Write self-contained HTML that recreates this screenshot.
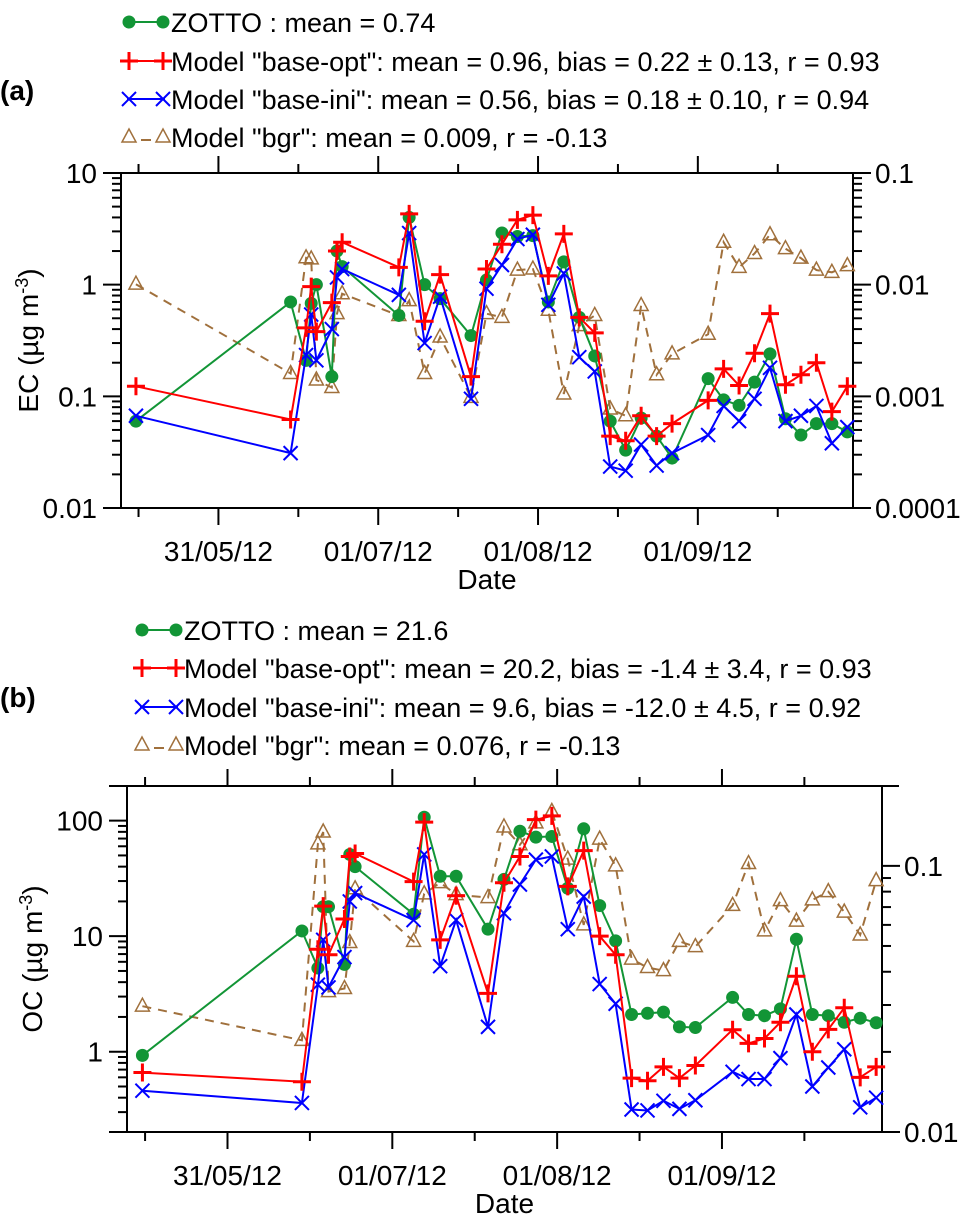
<!DOCTYPE html>
<html><head><meta charset="utf-8"><style>
html,body{margin:0;padding:0;background:#fff;}
svg{display:block;font-family:"Liberation Sans",Arial,sans-serif;}
</style></head><body>
<svg id="fig" width="964" height="1230" viewBox="0 0 964 1230" xmlns="http://www.w3.org/2000/svg"></svg>
<script>
// ---------- data ----------
const days = [-16,14,17,18,19,22,23,24,35,37,40,43,49,52,55,58,61,64,67,70,73,76,79,82,85,88,95,98,101,104,107,110,113,116,119,122];
const dateTickDays = [0,31,62,93];
const dateTickLabels = ["31/05/12","01/07/12","01/08/12","01/09/12"];
// panel a (EC)
const ecZotto = [0.06,0.70,0.21,0.68,1.0,0.15,2.0,1.45,0.53,4.0,1.0,0.75,0.35,1.1,2.9,2.7,2.75,0.7,1.6,0.51,0.23,0.06,0.033,0.064,0.044,0.028,0.144,0.093,0.083,0.134,0.24,0.063,0.045,0.057,0.057,0.048];
const ecBaseOpt = [0.123,0.062,0.41,0.96,0.38,0.69,2.0,2.4,1.43,4.3,0.47,1.23,0.15,1.38,2.3,3.8,4.2,1.2,2.85,0.51,0.37,0.044,0.040,0.067,0.044,0.057,0.092,0.176,0.125,0.243,0.55,0.127,0.156,0.20,0.073,0.123];
const ecBaseIni = [0.067,0.031,0.234,0.54,0.21,0.40,1.16,1.38,0.81,2.9,0.30,0.78,0.095,0.92,1.5,2.56,2.8,0.66,1.26,0.224,0.167,0.0235,0.0216,0.037,0.024,0.031,0.045,0.082,0.060,0.095,0.18,0.060,0.067,0.082,0.038,0.053];
const ecBgr = [0.0101,0.0016,0.0174,0.017,0.0014,0.0012,0.0055,0.0083,0.0053,0.0072,0.0016,0.0034,0.00098,0.0055,0.0051,0.0135,0.0138,0.0059,0.00105,0.0043,0.0053,0.00077,0.00067,0.0065,0.00156,0.0024,0.0036,0.024,0.0143,0.019,0.028,0.021,0.0173,0.0135,0.0129,0.0148];
const ecLeftTicks = [0.01,0.1,1,10];
const ecLeftLabels = ["0.01","0.1","1","10"];
const ecRightTicks = [0.0001,0.001,0.01,0.1];
const ecRightLabels = ["0.0001","0.001","0.01","0.1"];
// panel b (OC)
const ocZotto = [0.93,11.1,5.3,18,18,5.7,51,40,15.5,107,33,33,11.5,31,81,72,73,26,85,18.4,9.1,2.1,2.15,2.2,1.64,1.62,2.95,2.1,2.05,2.35,9.4,2.1,2.05,1.8,1.95,1.78];
const ocBaseOpt = [0.66,0.55,7.7,18.2,6.9,14.1,49,52,29.7,97,9.3,22.4,3.2,29,49,102,110,27,55,10,6.9,0.59,0.56,0.74,0.59,0.76,1.55,1.18,1.3,1.8,4.5,1.0,1.56,2.4,0.6,0.74];
const ocBaseIni = [0.46,0.36,3.8,9.3,3.6,6.6,20,23.6,13.8,51,5.5,13.8,1.64,15.8,28,46,49,11.5,22,3.85,2.6,0.316,0.31,0.376,0.32,0.38,0.67,0.58,0.58,0.88,2.1,0.5,0.73,1.05,0.33,0.40];
const ocBgr = [0.0297,0.0221,0.121,0.134,0.0337,0.0346,0.0515,0.082,0.052,0.0785,0.0865,0.078,0.076,0.14,0.12,0.145,0.16,0.106,0.060,0.126,0.10,0.0446,0.0415,0.0404,0.052,0.0497,0.071,0.102,0.057,0.074,0.062,0.0745,0.08,0.067,0.055,0.088];
const ocLeftTicks = [1,10,100];
const ocLeftLabels = ["1","10","100"];
const ocRightTicks = [0.01,0.1];
const ocRightLabels = ["0.01","0.1"];

// ---------- helpers ----------
const NS = "http://www.w3.org/2000/svg";
const svg = document.getElementById("fig");
function mk(tag, attrs, parent){
  const e = document.createElementNS(NS, tag);
  for (const k in attrs) e.setAttribute(k, attrs[k]);
  (parent||svg).appendChild(e);
  return e;
}
const GREEN="#129536", RED="#ff0000", BLUE="#0000ff", BROWN="#a0703c";
const TF = 28, LF = 27;

function marker(g, type, x, y){
  let m;
  if (type==="circle"){
    m = mk("circle",{cx:x,cy:y,r:6.5,fill:GREEN},g);
  } else if (type==="plus"){
    m = mk("path",{d:`M${x-9},${y}H${x+9}M${x},${y-9}V${y+9}`,stroke:RED,"stroke-width":3,fill:"none"},g);
  } else if (type==="x"){
    m = mk("path",{d:`M${x-7},${y-7}L${x+7},${y+7}M${x-7},${y+7}L${x+7},${y-7}`,stroke:BLUE,"stroke-width":2,fill:"none"},g);
  } else {
    m = mk("path",{d:`M${x},${y-8}L${x+7},${y+5}L${x-7},${y+5}Z`,stroke:BROWN,"stroke-width":1.5,fill:"none"},g);
  }
  return m;
}

function panel(P){
  const xs = d => P.x0 + (d - (-18.9)) / (123.1 - (-18.9)) * (P.x1 - P.x0);
  const yl = v => P.y1 - (Math.log10(v) - P.lmin) / (P.lmax - P.lmin) * (P.y1 - P.y0);
  const yr = v => P.y1 - (Math.log10(v) - P.rmin) / (P.rmax - P.rmin) * (P.y1 - P.y0);
  const g = mk("g",{});
  
  
  const ax = mk("g",{stroke:"#000","stroke-width":2,fill:"none"},g);
  
  
  mk("line",{x1:P.x0-18,y1:P.y0,x2:P.x1+17,y2:P.y0},ax);
  mk("line",{x1:P.x0-18,y1:P.y1,x2:P.x1+17,y2:P.y1},ax);
  mk("line",{x1:P.x0,y1:P.y0,x2:P.x0,y2:P.y1},ax);
  mk("line",{x1:P.x1,y1:P.y0,x2:P.x1,y2:P.y1},ax);
  for (let k=-1;k<dateTickDays.length;k++){
    if (k>=0){
      const x = xs(dateTickDays[k]);
      mk("line",{x1:x,y1:P.y1,x2:x,y2:P.y1+17},ax);
      mk("line",{x1:x,y1:P.y0,x2:x,y2:P.y0-17},ax);
    }
    const dMin = k>=0 ? dateTickDays[k]+15.5 : -15.5;
    const xm = xs(dMin);
    mk("line",{x1:xm,y1:P.y1,x2:xm,y2:P.y1+9},ax);
    mk("line",{x1:xm,y1:P.y0,x2:xm,y2:P.y0-9},ax);
  }
  dateTickDays.forEach((d,i)=>{
    const t = mk("text",{x:xs(d),y:P.y1+53,"font-size":TF,"text-anchor":"middle",fill:"#000"},g);
    t.textContent = dateTickLabels[i];
    
    
  });
  const xt = mk("text",{x:(P.x0+P.x1)/2,y:P.y1+81,"font-size":TF,"text-anchor":"middle"},g);
  xt.textContent = "Date";
  
  
  for (let e=Math.floor(P.lmin); e<=Math.ceil(P.lmax); e++){
    for (let m=1;m<10;m++){
      const lv = e + Math.log10(m);
      if (lv < P.lmin-1e-6 || lv > P.lmax+1e-6) continue;
      const y = yl(Math.pow(10,lv));
      mk("line",{x1:P.x0,y1:y,x2:P.x0-(m===1?18:9),y2:y},ax);
    }
  }
  for (let e=Math.floor(P.rmin); e<=Math.ceil(P.rmax); e++){
    for (let m=1;m<10;m++){
      const lv = e + Math.log10(m);
      if (lv < P.rmin-1e-6 || lv > P.rmax+1e-6) continue;
      const y = yr(Math.pow(10,lv));
      mk("line",{x1:P.x1,y1:y,x2:P.x1+(m===1?18:9),y2:y},ax);
    }
  }
  P.lt.forEach((v,i)=>{
    const t = mk("text",{x:P.x0-24,y:yl(v)+10,"font-size":TF,"text-anchor":"end"},g);
    t.textContent = P.ll[i];
    
    
  });
  P.rt.forEach((v,i)=>{
    const t = mk("text",{x:P.x1+22,y:yr(v)+10,"font-size":TF,"text-anchor":"start"},g);
    t.textContent = P.rl[i];
    
    
  });
  const yt = mk("text",{x:0,y:0,"font-size":TF,"text-anchor":"middle",transform:`translate(${P.ytx},${(P.y0+P.y1)/2}) rotate(-90)`},g);
  yt.innerHTML = P.ytitle + ' (µg m<tspan dy="-10" font-size="18">-3</tspan><tspan dy="10">)</tspan>';
  
  
  const series = [
    {vals:P.bgr, sc:yr, color:BROWN, type:"tri", dash:"9,7", w:2, name:"bgr"},
    {vals:P.zotto, sc:yl, color:GREEN, type:"circle", dash:null, w:2, name:"zotto"},
    {vals:P.ini, sc:yl, color:BLUE, type:"x", dash:null, w:2, name:"base-ini"},
    {vals:P.opt, sc:yl, color:RED, type:"plus", dash:null, w:2, name:"base-opt"}
  ];
  series.forEach(s=>{
    const sg = mk("g",{},g);
    
    
    const pts = s.vals.map((v,i)=>xs(days[i]).toFixed(1)+","+s.sc(v).toFixed(1)).join(" ");
    const pl = mk("polyline",{points:pts,fill:"none",stroke:s.color,"stroke-width":s.w},sg);
    if (s.dash) pl.setAttribute("stroke-dasharray",s.dash);
    
    
    s.vals.forEach((v,i)=>{
      const m = marker(sg, s.type, xs(days[i]), s.sc(v));
      
      
    });
  });
  const lg = mk("g",{},g);
  
  
  const types=["circle","plus","x","tri"], cols=[GREEN,RED,BLUE,BROWN];
  P.legend.forEach((txt,i)=>{
    const y = P.legY[i];
    const a = P.legX, b = P.legX+38;
    const e = mk("g",{},lg);
    
    
    if (i<3) mk("line",{x1:a,y1:y,x2:b,y2:y,stroke:cols[i],"stroke-width":2},e);
    else mk("line",{x1:a+14,y1:y+3,x2:b-14,y2:y+3,stroke:cols[i],"stroke-width":2},e);
    marker(e,types[i],a+2,y); marker(e,types[i],b-2,y);
    const t = mk("text",{x:P.legX+44,y:y+10,"font-size":LF},e);
    t.textContent = txt;
  });
  const pl = mk("text",{x:0,y:P.tagY+10,"font-size":28,"font-weight":"bold"},g);
  pl.textContent = P.tag;
  
  
}

panel({name:"panel-a", x0:121,x1:853,y0:173,y1:508, lmin:-2,lmax:1, rmin:-4,rmax:-1,
  lt:ecLeftTicks, ll:ecLeftLabels, rt:ecRightTicks, rl:ecRightLabels, ytitle:"EC", ytx:38,
  zotto:ecZotto, opt:ecBaseOpt, ini:ecBaseIni, bgr:ecBgr,
  legend:['ZOTTO : mean = 0.74','Model "base-opt": mean = 0.96, bias = 0.22 ± 0.13, r = 0.93','Model "base-ini": mean = 0.56, bias = 0.18 ± 0.10, r = 0.94','Model "bgr": mean = 0.009, r = -0.13'],
  legY:[22,61,99,137], legX:127, tag:"(a)", tagY:90});
panel({name:"panel-b", x0:127,x1:882,y0:786,y1:1132, lmin:-0.695,lmax:2.30, rmin:-2,rmax:-0.70,
  lt:ocLeftTicks, ll:ocLeftLabels, rt:ocRightTicks, rl:ocRightLabels, ytitle:"OC", ytx:42,
  zotto:ocZotto, opt:ocBaseOpt, ini:ocBaseIni, bgr:ocBgr,
  legend:['ZOTTO : mean = 21.6','Model "base-opt": mean = 20.2, bias = -1.4 ± 3.4, r = 0.93','Model "base-ini": mean = 9.6, bias = -12.0 ± 4.5, r = 0.92','Model "bgr": mean = 0.076, r = -0.13'],
  legY:[630,668,707,745], legX:140, tag:"(b)", tagY:697});
</script>
</body></html>
